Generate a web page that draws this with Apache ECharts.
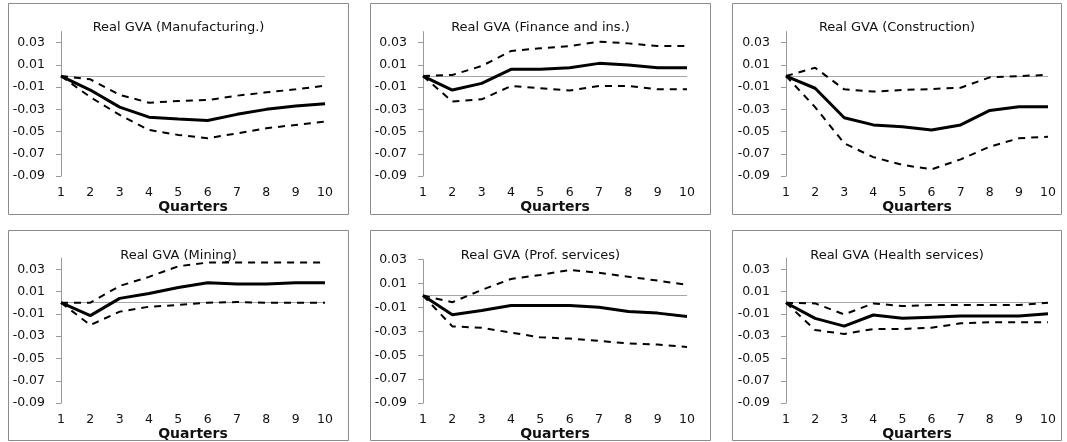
<!DOCTYPE html>
<html>
<head>
<meta charset="utf-8">
<script src="https://cdn.jsdelivr.net/npm/echarts@6/dist/echarts.min.js"></script>
<style>html,body{margin:0;padding:0;background:#fff}#c{width:1067px;height:442px}</style>
</head>
<body>
<div id="c"></div>
<script>
// ---- data ----
const quarters = ['1','2','3','4','5','6','7','8','9','10'];
const yTicks = [-0.09, -0.07, -0.05, -0.03, -0.01, 0.01, 0.03];
const titles = ['Real GVA (Manufacturing.)', 'Real GVA (Finance and ins.)', 'Real GVA (Construction)',
                'Real GVA (Mining)', 'Real GVA (Prof. services)', 'Real GVA (Health services)'];
const xAxisTitle = 'Quarters';

const mfgIrf   = [0, -0.0126, -0.028, -0.037, -0.0387, -0.040, -0.0345, -0.030, -0.027, -0.025];
const mfgUpper = [0, -0.003, -0.017, -0.024, -0.0225, -0.0216, -0.0177, -0.0147, -0.012, -0.0087];
const mfgLower = [0, -0.019, -0.035, -0.0486, -0.053, -0.056, -0.0516, -0.047, -0.044, -0.041];

const finIrf   = [0, -0.0126, -0.0066, 0.006, 0.006, 0.0075, 0.0114, 0.010, 0.0075, 0.0075];
const finUpper = [0, 0.001, 0.009, 0.0225, 0.025, 0.027, 0.031, 0.0294, 0.027, 0.027];
const finLower = [0, -0.023, -0.021, -0.009, -0.011, -0.013, -0.009, -0.009, -0.012, -0.012];

const conIrf   = [0, -0.011, -0.0375, -0.044, -0.0456, -0.0486, -0.044, -0.031, -0.0276, -0.0276];
const conUpper = [0, 0.0075, -0.012, -0.014, -0.0126, -0.0117, -0.0105, -0.0012, 0, 0.001];
const conLower = [0, -0.028, -0.0606, -0.073, -0.080, -0.084, -0.075, -0.0636, -0.056, -0.0546];

const minIrf   = [0, -0.0116, 0.0039, 0.0083, 0.0137, 0.0179, 0.0167, 0.0167, 0.0179, 0.0179];
const minUpper = [0, 0, 0.015, 0.0232, 0.0327, 0.036, 0.036, 0.036, 0.036, 0.036];
const minLower = [0, -0.020, -0.008, -0.0036, -0.002, 0, 0.0006, 0, 0, 0];

const proIrf   = [0, -0.016, -0.0125, -0.0083, -0.0083, -0.0083, -0.0097, -0.0133, -0.0147, -0.0175];
const proUpper = [0, -0.0056, 0.0047, 0.0139, 0.0172, 0.0214, 0.019, 0.0158, 0.0125, 0.0089];
const proLower = [0, -0.0258, -0.027, -0.031, -0.035, -0.036, -0.038, -0.040, -0.041, -0.043];

const hltIrf   = [0, -0.014, -0.021, -0.011, -0.014, -0.013, -0.012, -0.012, -0.012, -0.010];
const hltUpper = [0, -0.0006, -0.0105, -0.0006, -0.003, -0.002, -0.002, -0.002, -0.002, 0];
const hltLower = [0, -0.0245, -0.028, -0.0236, -0.0236, -0.0224, -0.0185, -0.0176, -0.0176, -0.0176];

const panelData = [
  [mfgIrf, mfgUpper, mfgLower],
  [finIrf, finUpper, finLower],
  [conIrf, conUpper, conLower],
  [minIrf, minUpper, minLower],
  [proIrf, proUpper, proLower],
  [hltIrf, hltUpper, hltLower]
];
const yMin = -0.09;
const yMax = [0.04, 0.04, 0.04, 0.04, 0.03, 0.04];

// ---- layout ----
const grids = [
  {left: 61,  top: 31.6,  width: 264, height: 144.4},
  {left: 423, top: 31.6,  width: 264, height: 144.4},
  {left: 786, top: 31.6,  width: 262, height: 144.4},
  {left: 61,  top: 258.1, width: 264, height: 145.6},
  {left: 423, top: 259.7, width: 264, height: 144},
  {left: 786, top: 258.1, width: 262, height: 145.6}
];
const frames = [
  {x: 8.5, y: 3.5, w: 340, h: 211},
  {x: 370.5, y: 3.5, w: 340, h: 211},
  {x: 732.5, y: 3.5, w: 329, h: 211},
  {x: 8.5, y: 230.5, w: 340, h: 210},
  {x: 370.5, y: 230.5, w: 340, h: 210},
  {x: 732.5, y: 230.5, w: 329, h: 210}
];
const titleY = [27.3, 27.3, 27.3, 255.3, 255.3, 255.3];
const nameGaps = [18, 14, 10, 18, 18, 4];

const FONT = 'DejaVu Sans';
const chart = echarts.init(document.getElementById('c'), null, {renderer: 'canvas'});

const graphic = [];
frames.forEach((f, i) => {
  graphic.push({type: 'rect', shape: {x: f.x, y: f.y, width: f.w, height: f.h},
    style: {fill: 'none', stroke: '#8c8c8c', lineWidth: 1}, silent: true, z: 0});
  graphic.push({type: 'text', x: f.x + f.w / 2, y: titleY[i],
    style: {text: titles[i], fill: '#111', font: '13px "' + FONT + '"', textAlign: 'center', textVerticalAlign: 'middle'},
    silent: true, z: 10});
});

const xAxis = [], yAxis = [], series = [];
grids.forEach((g, i) => {
  xAxis.push({
    type: 'category', gridIndex: i, data: quarters, boundaryGap: false,
    axisLine: {show: false, onZero: false}, axisTick: {show: false},
    axisLabel: {color: '#111', fontFamily: FONT, fontSize: 12.5, margin: 10},
    splitLine: {show: false},
    name: xAxisTitle, nameLocation: 'middle', nameGap: nameGaps[i],
    nameTextStyle: {color: '#111', fontFamily: FONT, fontSize: 14, fontWeight: 'bold'}
  });
  yAxis.push({
    type: 'value', gridIndex: i, min: yMin, max: yMax[i],
    axisLine: {show: true, onZero: false, lineStyle: {color: '#9a9a9a', width: 1}},
    axisTick: {show: true, length: 5, customValues: yTicks, lineStyle: {color: '#9a9a9a'}},
    axisLabel: {customValues: yTicks, color: '#111', fontFamily: FONT, fontSize: 12.5, margin: 16,
      formatter: v => v.toFixed(2)},
    splitLine: {show: false}
  });
  const [irf, up, lo] = panelData[i];
  series.push({
    type: 'line', xAxisIndex: i, yAxisIndex: i, data: up, symbol: 'none',
    lineStyle: {color: '#000', width: 2, type: [7, 6]}, z: 3, silent: true
  });
  series.push({
    type: 'line', xAxisIndex: i, yAxisIndex: i, data: lo, symbol: 'none',
    lineStyle: {color: '#000', width: 2, type: [7, 6]}, z: 3, silent: true
  });
  series.push({
    type: 'line', xAxisIndex: i, yAxisIndex: i, data: irf, symbol: 'none',
    lineStyle: {color: '#000', width: 3}, z: 4, silent: true,
    markLine: {silent: true, symbol: ['none', 'none'], label: {show: false},
      lineStyle: {color: '#a6a6a6', type: 'solid', width: 1}, data: [{yAxis: 0}], z: 2, animation: false}
  });
});

chart.setOption({
  animation: false,
  backgroundColor: '#fff',
  grid: grids.map(g => Object.assign({containLabel: false}, g)),
  xAxis, yAxis, series, graphic
});
</script>
</body>
</html>
